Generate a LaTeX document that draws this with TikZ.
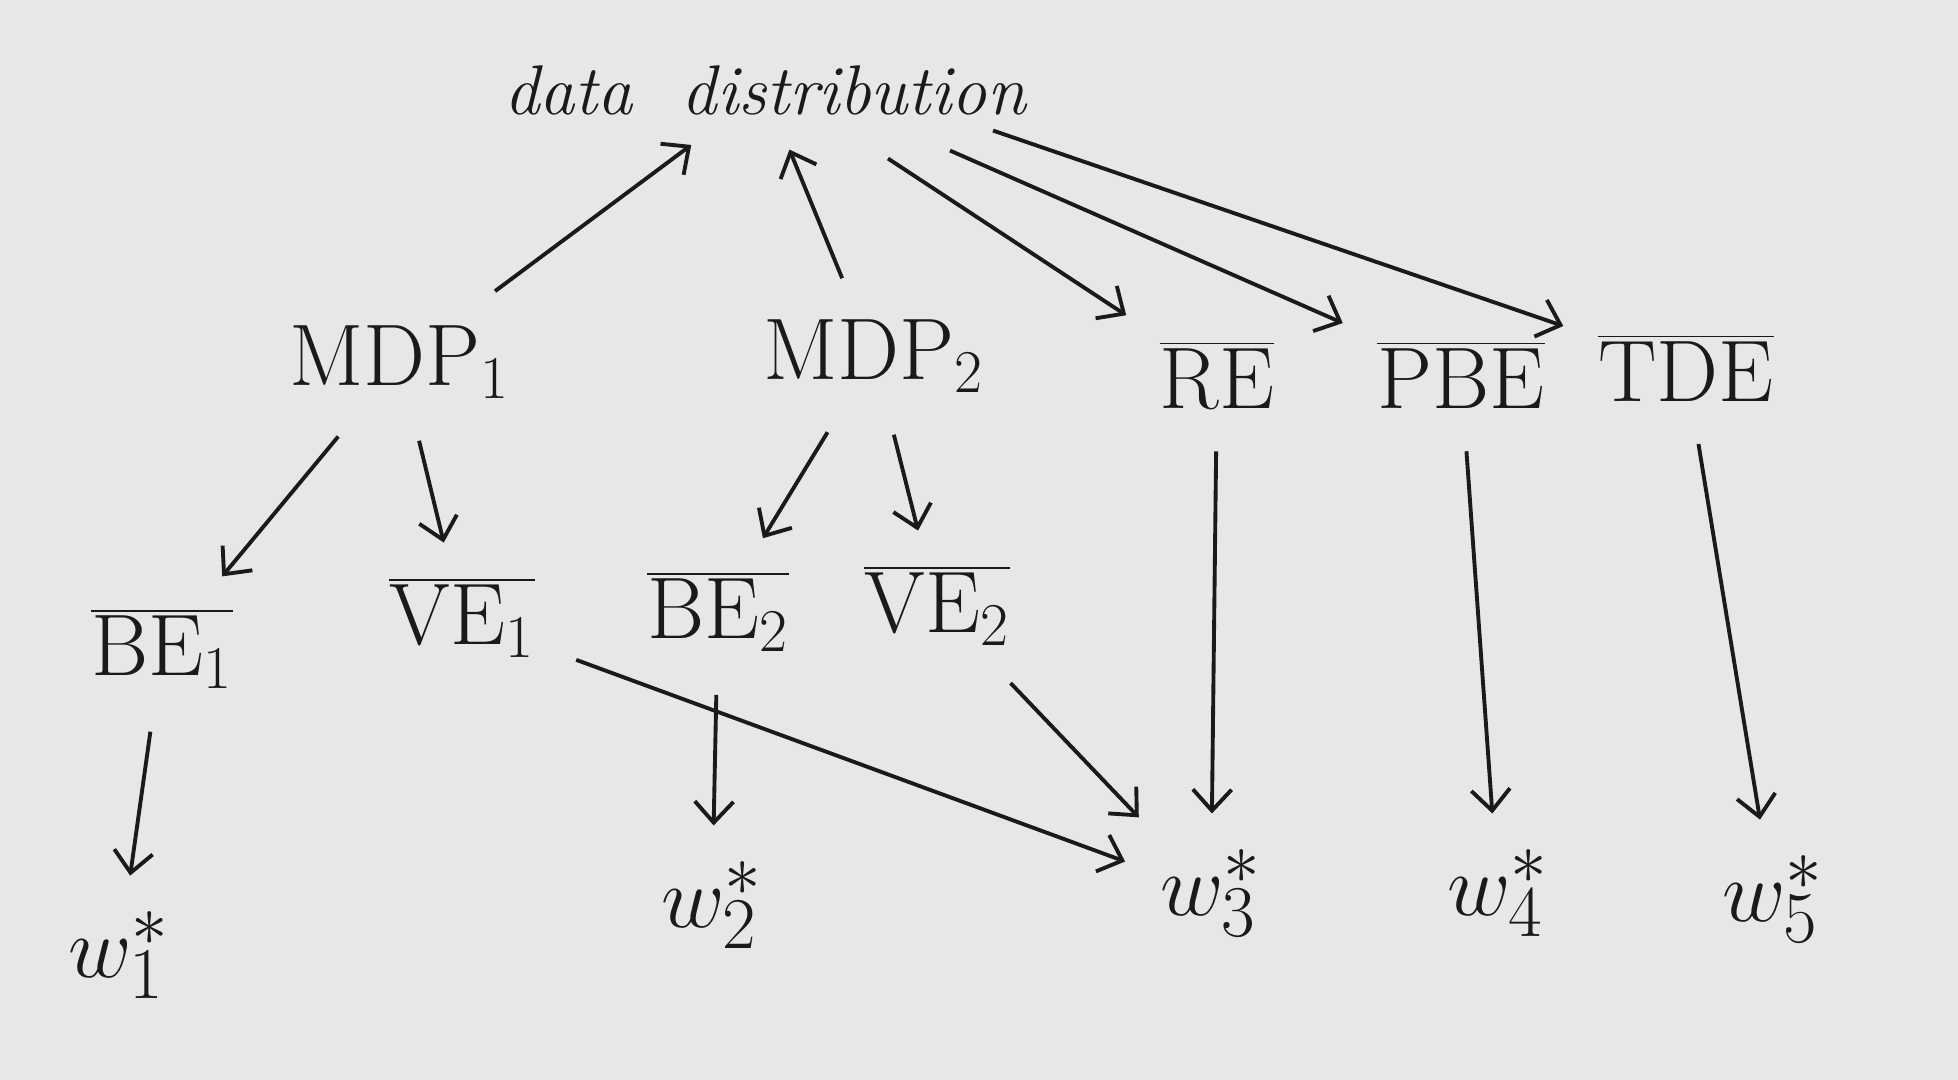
\documentclass[tikz,border=0pt]{standalone}
\usetikzlibrary{arrows.meta,calc}
\definecolor{paper}{HTML}{E7E7E5}
\definecolor{ink}{HTML}{1A1A1A}
\begin{document}
\begin{tikzpicture}[x=0.01cm,y=-0.01cm,
  lbl/.style={text=ink,font=\fontsize{25}{30}\selectfont,inner sep=6pt},
  wlbl/.style={lbl,font=\fontsize{28}{32}\selectfont},
  arr/.style={draw=ink,line width=1.1pt,-{Straight Barb[length=6pt,width=11pt]},shorten <=6pt,shorten >=4pt}]
\fill[paper] (0,0) rectangle (1958,1080);
\useasboundingbox (0,0) rectangle (1958,1080);
\node[lbl,font=\fontsize{20}{24}\selectfont] (data) at (765,90) {\itshape data\ \ distribution};
\node[lbl] (mdp1) at (400,362) {$\mathrm{MDP}_1$};
\node[lbl] (mdp2) at (874,356) {$\mathrm{MDP}_2$};
\node[lbl] (re) at (1217,375) {$\overline{\mathrm{RE}}$};
\node[lbl] (pbe) at (1461,375) {$\overline{\mathrm{PBE}}$};
\node[lbl] (tde) at (1686,368) {$\overline{\mathrm{TDE}}$};
\node[lbl] (be1) at (162,649) {$\overline{\mathrm{BE}_1}$};
\node[lbl] (ve1) at (462,618) {$\overline{\mathrm{VE}_1}$};
\node[lbl] (be2) at (718,612) {$\overline{\mathrm{BE}_2}$};
\node[lbl] (ve2) at (937,606) {$\overline{\mathrm{VE}_2}$};
\node[wlbl] (w1) at (119,955) {$w_1^{*}$};
\node[wlbl] (w2) at (712,905) {$w_2^{*}$};
\node[wlbl] (w3) at (1211,893) {$w_3^{*}$};
\node[wlbl] (w4) at (1498,893) {$w_4^{*}$};
\node[wlbl] (w5) at (1773,899) {$w_5^{*}$};
\coordinate (dRE) at ($(data.south)+(123,22)$);
\coordinate (dPBE) at ($(data.south)+(185,14)$);
\coordinate (dTDE) at ($(data.south)+(228,-6)$);
\draw[arr] (mdp1) -- (data);
\draw[arr] (mdp2) -- (data);
\draw[arr,shorten <=0pt] (dRE) -- (re);
\draw[arr,shorten <=0pt] (dPBE) -- (pbe);
\draw[arr,shorten <=0pt] (dTDE) -- (tde);
\draw[arr] (mdp1) -- (be1);
\draw[arr] (mdp1) -- (ve1);
\draw[arr] (mdp2) -- (be2);
\draw[arr] (mdp2) -- (ve2);
\draw[arr] (be1) -- (w1);
\draw[arr] (be2) -- (w2);
\draw[arr] (ve1) -- (w3);
\draw[arr] (ve2) -- (w3);
\draw[arr] (re) -- (w3);
\draw[arr] (pbe) -- (w4);
\draw[arr] (tde) -- (w5);
\end{tikzpicture}
\end{document}
